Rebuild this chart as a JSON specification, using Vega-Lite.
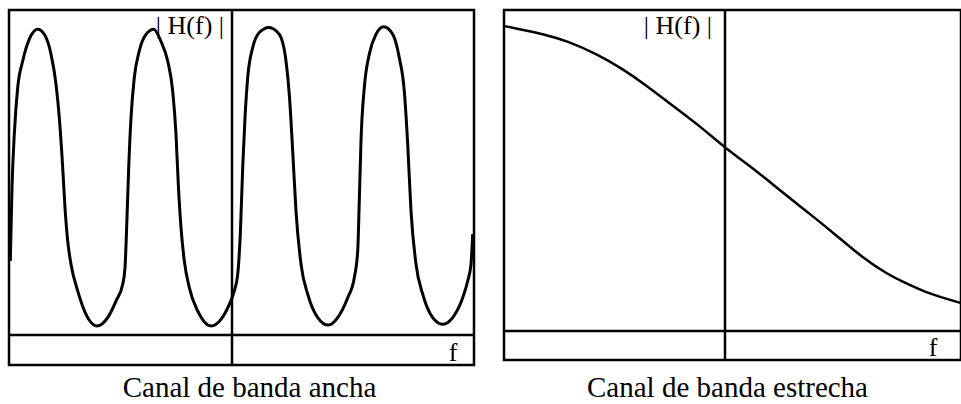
{
  "$schema": "https://vega.github.io/schema/vega-lite/v6.json",
  "padding": {"left": 6, "top": 7, "right": 0, "bottom": 0},
  "background": "white",
  "spacing": 24,
  "config": {
    "view": {"stroke": "black", "strokeWidth": 2.5},
    "title": {"font": "Liberation Serif", "fontSize": 29, "fontWeight": "normal", "color": "black", "orient": "bottom", "anchor": "middle"},
    "text": {"font": "Liberation Serif", "fontSize": 26, "color": "black", "baseline": "alphabetic"}
  },
  "datasets": {
    "ancha": [
      {"f": -2.217, "h": 0.247}, {"f": -2.2, "h": 0.49}, {"f": -2.177, "h": 0.669}, {"f": -2.143, "h": 0.824},
      {"f": -2.093, "h": 0.913}, {"f": -2.027, "h": 0.986}, {"f": -1.943, "h": 1.019}, {"f": -1.877, "h": 1.002},
      {"f": -1.81, "h": 0.936}, {"f": -1.76, "h": 0.836}, {"f": -1.727, "h": 0.724}, {"f": -1.693, "h": 0.558},
      {"f": -1.67, "h": 0.424}, {"f": -1.643, "h": 0.313}, {"f": -1.61, "h": 0.236}, {"f": -1.543, "h": 0.147},
      {"f": -1.46, "h": 0.069}, {"f": -1.35, "h": 0.03}, {"f": -1.243, "h": 0.058}, {"f": -1.16, "h": 0.113},
      {"f": -1.093, "h": 0.169}, {"f": -1.07, "h": 0.224}, {"f": -1.05, "h": 0.391}, {"f": -1.033, "h": 0.558},
      {"f": -1.01, "h": 0.724}, {"f": -0.977, "h": 0.858}, {"f": -0.927, "h": 0.947}, {"f": -0.86, "h": 1.002},
      {"f": -0.783, "h": 1.019}, {"f": -0.71, "h": 0.978}, {"f": -0.643, "h": 0.913}, {"f": -0.593, "h": 0.813},
      {"f": -0.56, "h": 0.669}, {"f": -0.537, "h": 0.502}, {"f": -0.51, "h": 0.358}, {"f": -0.477, "h": 0.247},
      {"f": -0.427, "h": 0.158}, {"f": -0.343, "h": 0.08}, {"f": -0.21, "h": 0.03}, {"f": -0.11, "h": 0.052},
      {"f": -0.027, "h": 0.102}, {"f": 0.023, "h": 0.147}, {"f": 0.057, "h": 0.202}, {"f": 0.083, "h": 0.336},
      {"f": 0.107, "h": 0.558}, {"f": 0.13, "h": 0.724}, {"f": 0.157, "h": 0.858}, {"f": 0.207, "h": 0.958},
      {"f": 0.273, "h": 1.008}, {"f": 0.37, "h": 1.025}, {"f": 0.473, "h": 1.002}, {"f": 0.54, "h": 0.913},
      {"f": 0.573, "h": 0.802}, {"f": 0.607, "h": 0.613}, {"f": 0.64, "h": 0.413}, {"f": 0.69, "h": 0.236},
      {"f": 0.757, "h": 0.136}, {"f": 0.857, "h": 0.058}, {"f": 0.963, "h": 0.033}, {"f": 1.057, "h": 0.058},
      {"f": 1.157, "h": 0.124}, {"f": 1.223, "h": 0.191}, {"f": 1.257, "h": 0.28}, {"f": 1.273, "h": 0.447},
      {"f": 1.29, "h": 0.647}, {"f": 1.323, "h": 0.824}, {"f": 1.373, "h": 0.936}, {"f": 1.44, "h": 1.002},
      {"f": 1.517, "h": 1.027}, {"f": 1.607, "h": 1.002}, {"f": 1.673, "h": 0.924}, {"f": 1.723, "h": 0.813},
      {"f": 1.757, "h": 0.636}, {"f": 1.79, "h": 0.413}, {"f": 1.84, "h": 0.236}, {"f": 1.907, "h": 0.136},
      {"f": 2.007, "h": 0.058}, {"f": 2.107, "h": 0.036}, {"f": 2.207, "h": 0.058}, {"f": 2.307, "h": 0.124},
      {"f": 2.357, "h": 0.18}, {"f": 2.39, "h": 0.236}, {"f": 2.407, "h": 0.336}
    ],
    "estrecha": [
      {"f": -2.21, "h": 1.017}, {"f": -2.02, "h": 1.003}, {"f": -1.82, "h": 0.99}, {"f": -1.58, "h": 0.967},
      {"f": -1.28, "h": 0.923}, {"f": -1.02, "h": 0.873}, {"f": -0.78, "h": 0.817}, {"f": -0.52, "h": 0.75},
      {"f": -0.25, "h": 0.683}, {"f": 0, "h": 0.61}, {"f": 0.32, "h": 0.533}, {"f": 0.58, "h": 0.46},
      {"f": 0.85, "h": 0.39}, {"f": 1.12, "h": 0.317}, {"f": 1.38, "h": 0.243}, {"f": 1.62, "h": 0.19},
      {"f": 1.82, "h": 0.157}, {"f": 2.02, "h": 0.127}, {"f": 2.22, "h": 0.107}, {"f": 2.36, "h": 0.093}
    ]
  },
  "hconcat": [
    {
      "width": 465,
      "height": 355,
      "title": {"text": "Canal de banda ancha", "offset": 8, "dx": 8},
      "layer": [
        {
          "data": {"name": "ancha"},
          "mark": {"type": "line", "color": "black", "strokeWidth": 3, "interpolate": "monotone", "clip": true},
          "encoding": {
            "x": {"field": "f", "type": "quantitative", "axis": null, "scale": {"domain": [-2.23, 2.42], "nice": false, "zero": false}},
            "y": {"field": "h", "type": "quantitative", "axis": null, "scale": {"domain": [-0.1, 1.083], "nice": false, "zero": false}}
          }
        },
        {
          "data": {"values": [{"v": 0}]},
          "mark": {"type": "rule", "color": "black", "strokeWidth": 2.5},
          "encoding": {"y": {"field": "v", "type": "quantitative", "axis": null}}
        },
        {
          "data": {"values": [{"v": 0}]},
          "mark": {"type": "rule", "color": "black", "strokeWidth": 2.5},
          "encoding": {"x": {"field": "v", "type": "quantitative", "axis": null}}
        },
        {
          "data": {"values": [{"f": -0.08, "h": 1.003, "label": "| H(f) |"}]},
          "mark": {"type": "text", "align": "right"},
          "encoding": {
            "x": {"field": "f", "type": "quantitative"},
            "y": {"field": "h", "type": "quantitative"},
            "text": {"field": "label"}
          }
        },
        {
          "data": {"values": [{"f": 2.21, "h": -0.087, "label": "f"}]},
          "mark": {"type": "text", "align": "center"},
          "encoding": {
            "x": {"field": "f", "type": "quantitative"},
            "y": {"field": "h", "type": "quantitative"},
            "text": {"field": "label"}
          }
        }
      ]
    },
    {
      "width": 457,
      "height": 350,
      "title": {"text": "Canal de banda estrecha", "offset": 13, "dx": -5},
      "layer": [
        {
          "data": {"name": "estrecha"},
          "mark": {"type": "line", "color": "black", "strokeWidth": 2.5, "interpolate": "basis", "clip": true},
          "encoding": {
            "x": {"field": "f", "type": "quantitative", "axis": null, "scale": {"domain": [-2.21, 2.36], "nice": false, "zero": false}},
            "y": {"field": "h", "type": "quantitative", "axis": null, "scale": {"domain": [-0.0967, 1.07], "nice": false, "zero": false}}
          }
        },
        {
          "data": {"values": [{"v": 0}]},
          "mark": {"type": "rule", "color": "black", "strokeWidth": 2.5},
          "encoding": {"y": {"field": "v", "type": "quantitative", "axis": null}}
        },
        {
          "data": {"values": [{"v": 0}]},
          "mark": {"type": "rule", "color": "black", "strokeWidth": 2.5},
          "encoding": {"x": {"field": "v", "type": "quantitative", "axis": null}}
        },
        {
          "data": {"values": [{"f": -0.13, "h": 0.99, "label": "| H(f) |"}]},
          "mark": {"type": "text", "align": "right"},
          "encoding": {
            "x": {"field": "f", "type": "quantitative"},
            "y": {"field": "h", "type": "quantitative"},
            "text": {"field": "label"}
          }
        },
        {
          "data": {"values": [{"f": 2.08, "h": -0.083, "label": "f"}]},
          "mark": {"type": "text", "align": "center"},
          "encoding": {
            "x": {"field": "f", "type": "quantitative"},
            "y": {"field": "h", "type": "quantitative"},
            "text": {"field": "label"}
          }
        }
      ]
    }
  ]
}
